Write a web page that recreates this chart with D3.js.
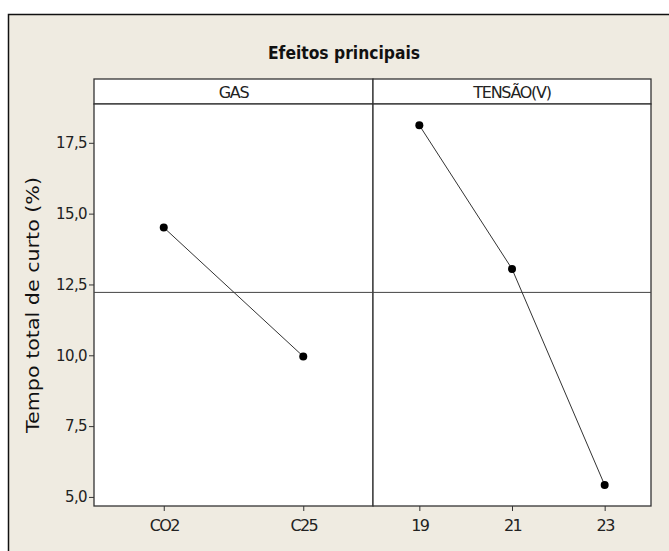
<!DOCTYPE html>
<html>
<head>
<meta charset="utf-8">
<script src="https://cdn.jsdelivr.net/npm/d3@7"></script>
<style>
  html, body { margin: 0; padding: 0; background: #ffffff; }
  svg { display: block; }
</style>
</head>
<body>
<svg id="chart" width="669" height="551"></svg>
<script>
// ---- Data ----
const chartTitle = "Efeitos principais";
const yAxisTitle = "Tempo total de curto (%)";
const panelNames = ["GAS", "TENSÃO(V)"];
const gasLevels = ["CO2", "C25"];
const gasMeans = [14.51, 9.96];
const tensaoLevels = ["19", "21", "23"];
const tensaoMeans = [18.12, 13.05, 5.42];
const yTicks = [5.0, 7.5, 10.0, 12.5, 15.0, 17.5];
const grandMean = 12.22;

// ---- Layout ----
const W = 669, H = 551;
const plotTop = 104, plotBottom = 506, stripTop = 79;
const panelBounds = [[94, 373], [373, 651]];
const bg = "#EFEBE1";

const svg = d3.select("#chart");

// frame
svg.append("rect")
  .attr("x", 8.5).attr("y", 14.5)
  .attr("width", 700).attr("height", 600)
  .attr("fill", bg).attr("stroke", "#111").attr("stroke-width", 1.5);

// title
svg.append("text")
  .attr("x", 344).attr("y", 59)
  .attr("text-anchor", "middle")
  .attr("font-family", "DejaVu Sans, sans-serif")
  .attr("font-weight", "bold")
  .attr("font-size", 18)
  .attr("textLength", 152).attr("lengthAdjust", "spacingAndGlyphs")
  .attr("fill", "#111")
  .text(chartTitle);

// y scale
const y = d3.scaleLinear().domain([4.68, 18.87]).range([plotBottom, plotTop]);
const fmt = d => d3.format(".1f")(d).replace(".", ",");

const panels = [
  { name: panelNames[0], levels: gasLevels, means: gasMeans },
  { name: panelNames[1], levels: tensaoLevels, means: tensaoMeans }
];

panels.forEach((p, i) => {
  const [x0, x1] = panelBounds[i];
  p.x = d3.scalePoint().domain(p.levels).range([x0, x1]).padding(0.5);
  // strip
  svg.append("rect")
    .attr("x", x0).attr("y", stripTop)
    .attr("width", x1 - x0).attr("height", plotTop - stripTop)
    .attr("fill", "#ffffff").attr("stroke", "#333").attr("stroke-width", 1.3);
  svg.append("text")
    .attr("x", (x0 + x1) / 2).attr("y", 98)
    .attr("text-anchor", "middle")
    .attr("font-family", "DejaVu Sans, sans-serif")
    .attr("font-size", 16)
    .attr("letter-spacing", -1.3)
    .attr("fill", "#222")
    .text(p.name);
  // plot area
  svg.append("rect")
    .attr("x", x0).attr("y", plotTop)
    .attr("width", x1 - x0).attr("height", plotBottom - plotTop)
    .attr("fill", "#ffffff").attr("stroke", "#333").attr("stroke-width", 1.3);
});

// grand mean reference line
svg.append("line")
  .attr("x1", panelBounds[0][0]).attr("x2", panelBounds[1][1])
  .attr("y1", y(grandMean)).attr("y2", y(grandMean))
  .attr("stroke", "#444").attr("stroke-width", 1);

// series
panels.forEach(p => {
  const pts = p.levels.map((l, j) => [p.x(l), y(p.means[j])]);
  svg.append("path")
    .attr("d", d3.line()(pts))
    .attr("fill", "none").attr("stroke", "#333").attr("stroke-width", 1);
  svg.selectAll(null).data(pts).enter().append("circle")
    .attr("cx", d => d[0]).attr("cy", d => d[1]).attr("r", 4)
    .attr("fill", "#000");
  // x axis
  const ax = svg.append("g")
    .attr("transform", `translate(0,${plotBottom})`)
    .call(d3.axisBottom(p.x).tickSize(5).tickPadding(9));
  ax.select(".domain").remove();
  ax.selectAll("line").attr("stroke", "#333");
  ax.selectAll("text")
    .attr("font-family", "DejaVu Sans, sans-serif")
    .attr("font-size", 16)
    .attr("letter-spacing", -1.6)
    .attr("fill", "#222");
});

// y axis
const ay = svg.append("g")
  .attr("transform", `translate(${panelBounds[0][0]},0)`)
  .call(d3.axisLeft(y).tickValues(yTicks).tickFormat(fmt).tickSize(5).tickPadding(2));
ay.select(".domain").remove();
ay.selectAll("line").attr("stroke", "#333");
ay.selectAll("text")
  .attr("font-family", "DejaVu Sans, sans-serif")
  .attr("font-size", 15)
  .attr("letter-spacing", -0.6)
  .attr("fill", "#222");

// y axis title
svg.append("text")
  .attr("transform", `translate(39,${(plotTop + plotBottom) / 2}) rotate(-90)`)
  .attr("text-anchor", "middle")
  .attr("font-family", "DejaVu Sans, sans-serif")
  .attr("font-size", 17)
  .attr("textLength", 256).attr("lengthAdjust", "spacingAndGlyphs")
  .attr("fill", "#111")
  .text(yAxisTitle);
</script>
</body>
</html>
